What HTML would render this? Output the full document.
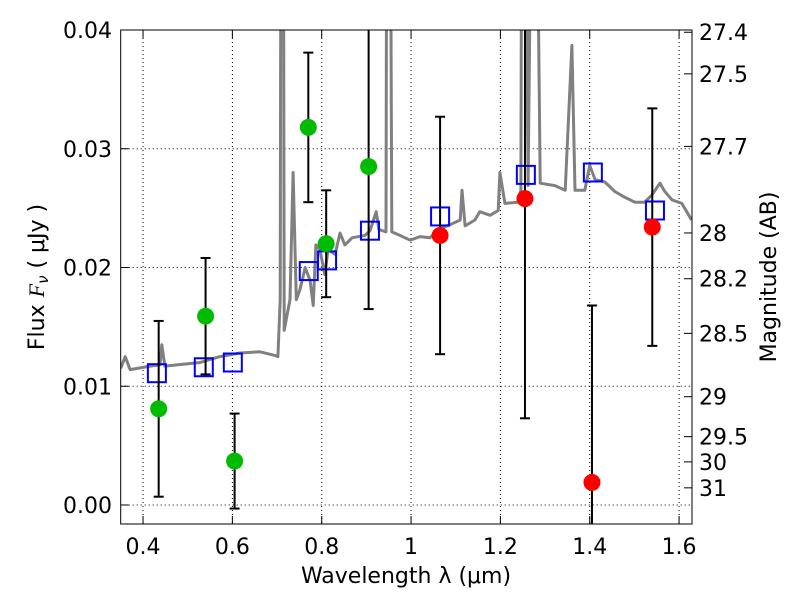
<!DOCTYPE html>
<html><head><meta charset="utf-8"><style>
html,body{margin:0;padding:0;background:#fff;width:800px;height:600px;overflow:hidden}
svg{display:block}
svg text{font-family:"DejaVu Sans","Liberation Sans",sans-serif;fill:#000}
</style></head><body>
<svg id="chart" width="800" height="600" xmlns="http://www.w3.org/2000/svg">
<defs><clipPath id="clip"><rect x="120.7" y="30" width="571.3" height="494"/></clipPath></defs>
<rect width="800" height="600" fill="#fff"/>
<g id="grid"></g>
<g id="spec" clip-path="url(#clip)"></g>
<g id="marks" clip-path="url(#clip)"></g>
<rect x="120.7" y="30" width="571.3" height="494" fill="none" stroke="#000" stroke-width="1"/>
<g id="axes"></g>
<text x="406" y="583" font-size="22" text-anchor="middle">Wavelength  λ (μm)</text>
<text transform="translate(44,277) rotate(-90)" font-size="22" text-anchor="middle">Flux  <tspan font-style="italic" font-family="Liberation Serif">F</tspan><tspan font-size="15" dy="4" font-style="italic">ν</tspan><tspan dy="-4">  ( μJy )</tspan></text>
<text transform="translate(776,277) rotate(-90)" font-size="22" text-anchor="middle">Magnitude (AB)</text>
</svg>
<script>
const specLam=[0.350,0.360,0.371,0.416,0.438,0.442,0.449,0.528,0.572,0.617,0.662,0.695,0.702,0.707,0.709,0.714,0.716,0.729,0.736,0.743,0.751,0.763,0.774,0.781,0.787,0.796,0.807,0.814,0.830,0.841,0.852,0.868,0.897,0.908,0.922,0.928,0.944,0.946,0.953,0.957,0.975,0.998,1.020,1.042,1.065,1.087,1.110,1.114,1.121,1.143,1.154,1.177,1.195,1.199,1.210,1.239,1.246,1.248,1.255,1.262,1.271,1.280,1.289,1.322,1.345,1.360,1.367,1.389,1.400,1.412,1.434,1.456,1.479,1.501,1.523,1.539,1.557,1.568,1.584,1.606,1.628];
const specFlux=[0.0115,0.0125,0.0114,0.0117,0.0118,0.0135,0.0117,0.0120,0.0125,0.0128,0.0129,0.0126,0.0125,0.0173,0.06,0.06,0.0147,0.0173,0.0280,0.0173,0.0181,0.0200,0.0189,0.0168,0.0219,0.0215,0.0194,0.0215,0.0211,0.0229,0.0219,0.0225,0.0227,0.0231,0.0247,0.0232,0.0230,0.06,0.06,0.0230,0.0227,0.0223,0.0226,0.0225,0.0233,0.0236,0.0240,0.0265,0.0235,0.0240,0.0247,0.0244,0.0248,0.0280,0.0254,0.0255,0.0265,0.06,0.06,0.0269,0.06,0.06,0.0271,0.0269,0.0265,0.0387,0.0265,0.0265,0.0286,0.0274,0.0272,0.0264,0.0259,0.0255,0.0255,0.0261,0.0271,0.0264,0.0257,0.0254,0.0240];
const greenLam=[0.435,0.54,0.605,0.77,0.81,0.905];
const greenFlux=[0.0081,0.0159,0.0037,0.0318,0.0220,0.0285];
const greenErr=[0.0074,0.0049,0.0040,0.0063,0.0045,0.0120];
const redLam=[1.065,1.255,1.405,1.54];
const redFlux=[0.0227,0.0258,0.0019,0.0234];
const redErr=[0.0100,0.0185,0.0149,0.0100];
const modelLam=[0.431,0.536,0.601,0.771,0.812,0.908,1.065,1.257,1.407,1.546];
const modelFlux=[0.0111,0.0116,0.0120,0.0197,0.0206,0.0231,0.0243,0.0278,0.0280,0.0248];
const xTicks=[0.4,0.6,0.8,1.0,1.2,1.4,1.6];
const xTickLabels=["0.4","0.6","0.8","1","1.2","1.4","1.6"];
const yTicks=[0,0.01,0.02,0.03,0.04];
const yTickLabels=["0.00","0.01","0.02","0.03","0.04"];
const magTicks=[27.4,27.5,27.7,28,28.2,28.5,29,29.5,30,31];

const NS="http://www.w3.org/2000/svg";
const X=l=>120.7+(l-0.35)*446.7;
const Y=f=>505-f*11875;
const magToFlux=m=>Math.pow(10,(23.9-m)/2.5);
function mk(tag,attrs,parent){const e=document.createElementNS(NS,tag);for(const k in attrs)e.setAttribute(k,attrs[k]);parent.appendChild(e);return e;}
const grid=document.getElementById('grid'),axes=document.getElementById('axes'),spec=document.getElementById('spec'),marks=document.getElementById('marks');
xTicks.forEach((t,i)=>{
  const x=X(t);
  let g=mk('line',{x1:x,x2:x,y1:30,y2:524,stroke:'#000','stroke-width':1,'stroke-dasharray':'1,3'},grid);
  
  
  mk('line',{x1:x,x2:x,y1:524,y2:516,stroke:'#000'},axes);
  mk('line',{x1:x,x2:x,y1:30,y2:38,stroke:'#000'},axes);
  let tx=mk('text',{x:x,y:554,'font-size':22,'text-anchor':'middle'},axes);
  tx.textContent=xTickLabels[i];
  
  
});
yTicks.forEach((t,i)=>{
  const y=Y(t);
  let g=mk('line',{x1:120.7,x2:692,y1:y,y2:y,stroke:'#000','stroke-width':1,'stroke-dasharray':'1,3'},grid);
  
  
  mk('line',{x1:120.7,x2:128.7,y1:y,y2:y,stroke:'#000'},axes);
  let tx=mk('text',{x:112,y:y+8,'font-size':22,'text-anchor':'end'},axes);
  tx.textContent=yTickLabels[i];
  
  
});
magTicks.forEach(m=>{
  const y=Y(magToFlux(m));
  mk('line',{x1:692,x2:684,y1:y,y2:y,stroke:'#000'},axes);
  let tx=mk('text',{x:699,y:y+8,'font-size':22},axes);
  tx.textContent=String(m);
  
  
});
let d=specLam.map((l,i)=>(i?'L':'M')+X(l).toFixed(1)+','+Y(specFlux[i]).toFixed(1)).join(' ');
let sp=mk('path',{d:d,fill:'none',stroke:'#808080','stroke-width':3,'stroke-linejoin':'round'},spec);


function errbar(l,f,e){
  const x=X(l);
  mk('line',{x1:x,x2:x,y1:Y(f+e),y2:Y(f-e),stroke:'#000','stroke-width':2},marks);
  mk('line',{x1:x-5,x2:x+5,y1:Y(f+e),y2:Y(f+e),stroke:'#000','stroke-width':2},marks);
  mk('line',{x1:x-5,x2:x+5,y1:Y(f-e),y2:Y(f-e),stroke:'#000','stroke-width':2},marks);
}
modelLam.forEach((l,i)=>{
  let r=mk('rect',{x:X(l)-9,y:Y(modelFlux[i])-9,width:18,height:18,fill:'none',stroke:'#0000ff','stroke-width':2},marks);
  
  
});
greenLam.forEach((l,i)=>{
  errbar(l,greenFlux[i],greenErr[i]);
  let c=mk('circle',{cx:X(l),cy:Y(greenFlux[i]),r:8.5,fill:'#00bb00'},marks);
  
  
});
redLam.forEach((l,i)=>{
  errbar(l,redFlux[i],redErr[i]);
  let c=mk('circle',{cx:X(l),cy:Y(redFlux[i]),r:8.5,fill:'#ff0000'},marks);
  
  
});
</script>
</body></html>
